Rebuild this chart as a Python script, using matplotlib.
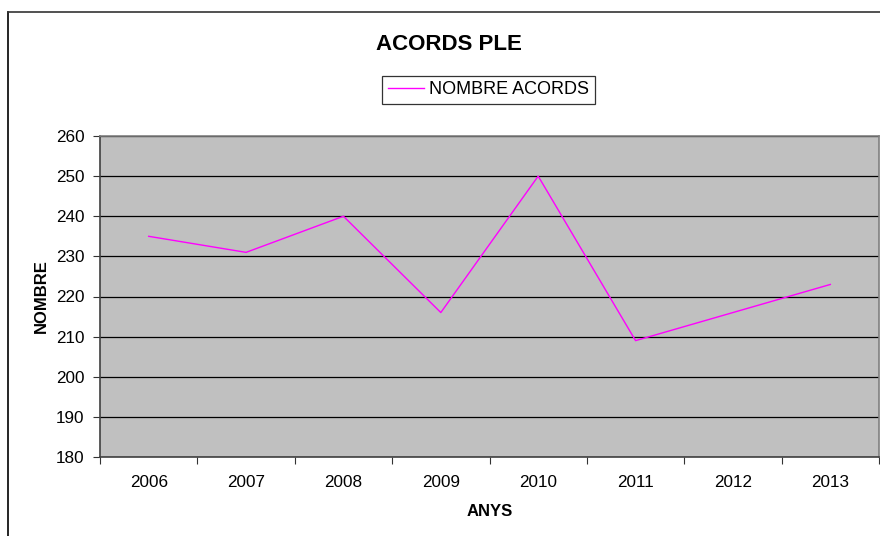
import matplotlib
matplotlib.use("Agg")
import matplotlib.pyplot as plt
from matplotlib.lines import Line2D

years = ["2006", "2007", "2008", "2009", "2010", "2011", "2012", "2013"]
acords = [235, 231, 240, 216, 250, 209, 216, 223]
yticks = [180, 190, 200, 210, 220, 230, 240, 250, 260]

plt.rcParams['font.family'] = ['Liberation Sans', 'DejaVu Sans']

fig = plt.figure(figsize=(8.8, 5.36), dpi=100)
W, H = 880, 536
ax = fig.add_axes([100 / W, 1 - 457 / H, 779 / W, 321 / H])
ax.set_facecolor('#c0c0c0')

x = [i + 0.5 for i in range(len(years))]
ax.plot(x, acords, color='#ff00ff', lw=1.0, label='NOMBRE ACORDS')

ax.set_xlim(0, len(years))
ax.set_ylim(180, 260)
ax.set_yticks(yticks)
ax.set_yticklabels([str(v) for v in yticks], fontsize=12.3)
ax.set_xticks(range(len(years) + 1))
ax.set_xticklabels([])
ax.set_xticks(x, minor=True)
ax.set_xticklabels(years, minor=True, fontsize=12.3)
ax.tick_params(axis='x', which='minor', length=0, pad=13)
ax.tick_params(axis='x', which='major', length=5, direction='out', color='#333333')
ax.tick_params(axis='y', length=5, direction='out', color='#333333', pad=6)
ax.grid(axis='y', color='black', lw=0.9)
ax.set_axisbelow(True)
for s in ['top', 'right']:
    ax.spines[s].set_color('#808080')
    ax.spines[s].set_linewidth(1.2)
for s in ['bottom', 'left']:
    ax.spines[s].set_color('#404040')
    ax.spines[s].set_linewidth(1.2)

ax.set_xlabel('ANYS', fontsize=12, fontweight='bold', labelpad=10)
ax.set_ylabel('NOMBRE', fontsize=12, fontweight='bold', labelpad=5.5)

fig.text(449 / W, 1 - 44 / H, 'ACORDS PLE', fontsize=16, fontweight='bold',
         ha='center', va='center')

leg = fig.legend(loc='center', bbox_to_anchor=(488.5 / W, 1 - 90 / H), fontsize=13,
                 frameon=True, fancybox=False, handlelength=2.0, handletextpad=0.3,
                 borderpad=0.3, borderaxespad=0)
leg.get_frame().set_edgecolor('black')
leg.get_frame().set_linewidth(0.9)

# outer chart border (left and top visible)
fig.add_artist(Line2D([8 / W, 8 / W], [0, 1 - 12 / H], transform=fig.transFigure,
                      color='black', lw=1.2))
fig.add_artist(Line2D([8 / W, 1], [1 - 12 / H, 1 - 12 / H], transform=fig.transFigure,
                      color='#333333', lw=1.2))

fig.savefig('out.png', dpi=100)
